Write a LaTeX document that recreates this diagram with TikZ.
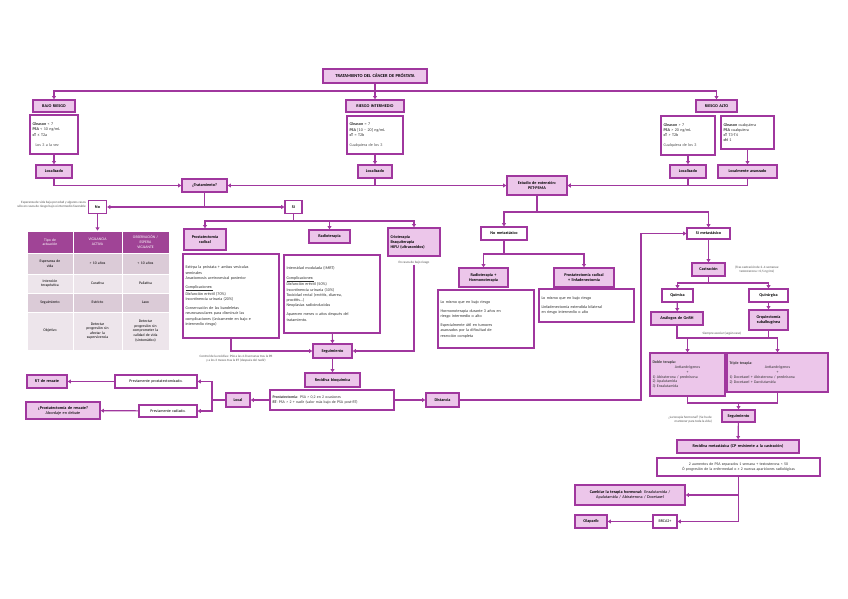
\documentclass[tikz,border=0pt]{standalone}
\usepackage{fontspec}
\setmainfont{Carlito}
\usetikzlibrary{arrows.meta,calc}
\definecolor{purp}{RGB}{160,55,158}
\definecolor{pinkf}{RGB}{236,198,234}
\definecolor{thc}{RGB}{160,68,150}
\definecolor{rowd}{RGB}{219,203,215}
\definecolor{rowl}{RGB}{237,229,235}
\definecolor{notec}{RGB}{80,80,80}
\definecolor{bodyc}{RGB}{50,50,50}
\newcommand\BX[7]{%
 \pgfmathsetmacro\bxw{#5-#3}\pgfmathsetmacro\bxh{#6-#4}%
 \pgfmathsetmacro\bxcx{(#3+#5)/2}\pgfmathsetmacro\bxcy{(#4+#6)/2}%
 \pgfmathsetmacro\bxtw{#5-#3-5}%
 \node[#1,minimum width=\bxw pt,minimum height=\bxh pt,text width=\bxtw pt] (#2) at (\bxcx,\bxcy) {#7};}
\newcommand\cl[1]{\makebox[\bxtw pt]{#1}}
\begin{document}
\begin{tikzpicture}[x=1pt,y=-1pt,
 lab/.style={font=\bfseries\fontsize{4.2}{5}\selectfont, align=center, inner xsep=2.5pt, inner ysep=0.5pt},
 pbox/.style={lab, draw=purp, fill=pinkf, line width=1.4pt},
 wbox/.style={lab, draw=purp, fill=white, line width=1.2pt},
 dbox/.style={draw=purp, fill=white, text=bodyc, line width=1.1pt, font=\fontsize{4.1}{5.2}\selectfont, align=left, inner xsep=2.5pt, inner ysep=1pt},
 nt/.style={font=\fontsize{3.3}{4}\selectfont, text=notec, inner sep=0pt},
 ln/.style={draw=purp, line width=1.2pt},
 arr/.style={ln, -{Triangle[length=3.2pt,width=3.8pt]}},
 cell/.style={draw=white, line width=0.8pt, font=\fontsize{3.8}{4.6}\selectfont, align=center, inner xsep=2.5pt, inner ysep=0pt}]
\useasboundingbox (0,0) rectangle (848,599);
\fill[white] (0,0) rectangle (848,599);

% ---- top ----
\BX{pbox,font=\bfseries\fontsize{4.5}{5.4}\selectfont}{tit}{323}{69}{427}{83}{TRATAMIENTO DEL CÁNCER DE PRÓSTATA}
\BX{pbox}{br}{33}{100}{75}{112}{BAJO RIESGO}
\BX{pbox}{ri}{346}{100}{404}{112}{RIESGO INTERMEDIO}
\BX{pbox}{ra}{696}{100}{737}{112}{RIESGO ALTO}
\BX{dbox}{bd}{30}{115}{78}{154}{\textbf{Gleason} < 7\\ \textbf{PSA} < 10 ng/mL\\ \textbf{cT} ≤ T2a\\[5pt] \hspace*{3pt}{\color{notec}Los 3 a la vez}}
\BX{dbox}{id}{347}{116}{403}{154}{\textbf{Gleason} = 7\\ \textbf{PSA} [10 – 20] ng/mL\\ \textbf{cT} = T2b\\[5pt] {\color{notec}Cualquiera de los 3}}
\BX{dbox}{ad1}{661}{116}{715}{155}{\textbf{Gleason} > 7\\ \textbf{PSA} > 20 ng/mL\\ \textbf{cT} > T2b\\[5pt] {\color{notec}Cualquiera de los 3}}
\BX{dbox}{ad2}{721}{116}{774}{149}{\textbf{Gleason} cualquiera\\ \textbf{PSA} cualquiera\\ \textbf{cT} T3-T4\\ \textbf{cN} 1}
\BX{pbox}{loc1}{36}{165}{72}{178}{Localizado}
\BX{pbox}{loc2}{358}{165}{392}{178}{Localizado}
\BX{pbox}{loc3}{670}{165}{706}{178}{Localizado}
\BX{pbox}{loc4}{718}{165}{777}{178}{Localmente avanzado}
\BX{pbox}{trat}{182}{179}{227}{192}{¿Tratamiento?}
\BX{pbox}{est}{507}{176}{567}{195}{Estudio de extensión:\\ PET-PSMA}
\BX{wbox}{no}{88.5}{200.5}{106.5}{213.5}{No}
\BX{wbox}{si}{285}{200.5}{302}{213.5}{Sí}
\node[nt,anchor=east,align=right] (nonote) at (86,204.5) {Esperanza de vida baja por edad y algunos casos\\ sólo en casos de riesgo bajo o intermedio favorable};

% ---- table ----
\BX{cell,fill=thc,text=white}{h1}{27}{231}{73}{253}{Tipo de\\ actuación}
\BX{cell,fill=thc,text=white}{h2}{73}{231}{122}{253}{VIGILANCIA\\ ACTIVA}
\BX{cell,fill=thc,text=white}{h3}{122}{231}{169}{253}{OBSERVACIÓN /\\ ESPERA\\ VIGILANTE}
\BX{cell,fill=rowd}{a1}{27}{253}{73}{274}{Esperanza de\\ vida}
\BX{cell,fill=rowd}{a2}{73}{253}{122}{274}{> 10 años}
\BX{cell,fill=rowd}{a3}{122}{253}{169}{274}{< 10 años}
\BX{cell,fill=rowl}{b1}{27}{274}{73}{293}{Intención\\ terapéutica}
\BX{cell,fill=rowl}{b2}{73}{274}{122}{293}{Curativa}
\BX{cell,fill=rowl}{b3}{122}{274}{169}{293}{Paliativa}
\BX{cell,fill=rowd}{c1}{27}{293}{73}{312}{Seguimiento}
\BX{cell,fill=rowd}{c2}{73}{293}{122}{312}{Estricto}
\BX{cell,fill=rowd}{c3}{122}{293}{169}{312}{Laxo}
\BX{cell,fill=rowl}{d1}{27}{312}{73}{350}{Objetivo}
\BX{cell,fill=rowl}{d2}{73}{312}{122}{350}{Detectar\\ progresión sin\\ afectar la\\ supervivencia}
\BX{cell,fill=rowl}{d3}{122}{312}{169}{350}{Detectar\\ progresión sin\\ comprometer la\\ calidad de vida\\ (sintomático)}

% ---- treatments ----
\BX{pbox}{pr}{184}{229}{226}{250}{Prostatectomía\\ radical}
\BX{pbox}{rt}{309}{230}{350}{243}{Radioterapia}
\BX{pbox,align=left}{crio}{388}{228}{440}{256}{Crioterapia\\ Braquiterapia\\ HIFU (ultrasonidos)}
\node[nt] (cnote) at (414,263) {En casos de bajo riesgo};
\BX{dbox}{prd}{183}{254}{279}{338}{Extirpa la próstata + ambas vesículas\\ seminales\\ Anastomosis uretrovesical posterior\\[4pt] \underline{Complicaciones:}\\ Disfunción eréctil (70\%)\\ Incontinencia urinaria (20\%)\\[4pt] Conservación de las bandeletas\\ neurovasculares para disminuir las\\ complicaciones (únicamente en bajo e\\ intermedio riesgo)}
\BX{dbox}{rtd}{284}{255}{380}{333}{Intensidad modulada (IMRT)\\[4pt] \underline{Complicaciones:}\\ Disfunción eréctil (50\%)\\ Incontinencia urinaria (10\%)\\ Toxicidad rectal (rectitis, diarrea,\\ proctitis...)\\ Neoplasias radioinducidas\\[4pt] Aparecen meses o años después del\\ tratamiento.}
\node[nt,align=center] (prnote) at (236,358.5) {Control de la recidiva: PSA a las 4-8 semanas tras la PR\\ y a los 3 meses tras la RT (después del nadir)};
\BX{pbox}{seg}{313}{344}{352}{358}{Seguimiento}
\BX{pbox}{rb}{305}{373}{360}{387}{Recidiva bioquímica}
\BX{dbox,font=\fontsize{3.9}{4.8}\selectfont}{rbox}{270}{390}{394}{410}{\textbf{Prostatectomía}: PSA > 0,2 en 2 ocasiones\\ \textbf{RT}: PSA > 2 + nadir (valor más bajo de PSA post-RT)}
\BX{pbox}{local}{226}{393}{250}{407}{Local}
\BX{pbox}{dist}{426}{393}{459}{407}{Distancia}
\BX{wbox,font=\fontsize{4}{5}\selectfont}{pp}{115}{375}{197}{388}{Previamente prostatectomizado.}
\BX{wbox,font=\fontsize{4}{5}\selectfont}{prad}{139}{405}{197}{417}{Previamente radiado.}
\BX{pbox}{rtr}{27}{375}{67}{388}{RT de rescate}
\BX{pbox}{prr}{26}{402}{100}{419}{¿Prostatectomía de rescate?\\ \mdseries Abordaje en debate}

% ---- right ----
\BX{wbox}{nm}{481}{227}{527}{240}{No metastásico}
\BX{pbox}{rth}{459}{268}{508}{287}{Radioterapia +\\ Hormonoterapia}
\BX{pbox}{prl}{554}{268}{614}{287}{Prostatectomía radical\\ + linfadenectomía}
\BX{dbox}{rthd}{438}{290}{534}{348}{Lo mismo que en bajo riesgo\\[4pt] Hormonoterapia durante 3 años en\\ riesgo intermedio o alto\\[4pt] Especialmente útil en tumores\\ avanzados por la dificultad de\\ resección completa}
\BX{dbox}{prld}{539}{289}{634}{322}{Lo mismo que en bajo riesgo\\[4pt] Linfadenectomía extendida bilateral\\ en riesgo intermedio o alto}
\BX{wbox}{sm}{687}{228}{730}{239}{Sí metastásico}
\BX{pbox}{cas}{692}{263}{725}{276}{Castración}
\node[nt,align=center] (casnote) at (757,269.5) {(Tras castración de 2–4 semanas:\\ testosterona < 0,5 ng/mL)};
\BX{wbox}{qui}{662}{289}{693}{302}{Química}
\BX{wbox}{qur}{749}{289}{788}{302}{Quirúrgica}
\BX{pbox}{ana}{651}{312}{703}{325}{Análogos de GnRH}
\BX{pbox}{orq}{749}{310}{788}{330}{Orquiectomía\\ subalbugínea}
\node[nt] (anote) at (722,334) {Siempre asociar (según caso)};
\BX{dbox,fill=pinkf,line width=1.4pt,font=\fontsize{3.9}{4.8}\selectfont}{doble}{650}{353}{725}{396}{\textbf{Doble terapia:}\\ \cl{Antiandrógenos}\\ \cl{+}\\ 1) Abiraterona / prednisona\\ 2) Apalutamida\\ 3) Enzalutamida}
\BX{dbox,fill=pinkf,line width=1.4pt,font=\fontsize{3.9}{4.8}\selectfont}{triple}{727}{353}{828}{392}{\textbf{Triple terapia:}\\ \cl{Antiandrógenos}\\ \cl{+}\\ 1) Docetaxel + Abiraterona / prednisona\\ 2) Docetaxel + Darolutamida}
\BX{pbox}{seg2}{722}{410}{755}{422}{Seguimiento}
\node[nt,anchor=east,align=right] (segnote) at (712,420) {¿La terapia hormonal? (Se ha de\\ mantener para toda la vida)};
\BX{pbox}{rm}{677}{440}{799}{453}{Recidiva metastásica (CP resistente a la castración)}
\BX{dbox,align=center,font=\fontsize{3.9}{4.8}\selectfont}{rmd}{657}{458}{820}{476}{2 aumentos de PSA separados 1 semana + testosterona < 50\\ Ó progresión de la enfermedad o ≥ 2 nuevas apariciones radiológicas}
\BX{pbox}{camb}{575}{485}{685}{505}{Cambiar la terapia hormonal: \mdseries Enzalutamida /\\ \mdseries Apalutamida / Abiraterona / Docetaxel}
\BX{wbox,font=\fontsize{4}{5}\selectfont}{brca}{653}{515}{677}{528}{BRCA2+}
\BX{pbox}{ola}{575}{515}{607}{528}{Olaparib}

% ---- connectors ----
\coordinate (t1) at (375,91);
\draw[arr] (tit) -- (ri);
\draw[arr] (t1) -| (br);
\draw[arr] (t1) -| (ra);
\draw[arr] (bd) -- (loc1);
\draw[arr] (id) -- (loc2);
\draw[arr] (ad1) -- (loc3);
\draw[arr] (ad2) -- (loc4);
\draw[arr] (loc1) |- (trat);
\draw[arr] (loc2) |- (trat);
\draw[arr] (loc2) |- (est);
\draw[arr] (loc3) |- (est);
\draw[arr] (loc4) |- (est);
\coordinate (tj) at (204.5,207);
\draw[ln] (trat) -- (tj);
\draw[arr] (tj) -- (no);
\draw[arr] (tj) -- (si);
\draw[arr] (no) -- (h2);
\coordinate (sj) at (293.5,221);
\draw[ln] (si) -- (sj);
\draw[arr] (sj) -| (pr);
\draw[arr] (sj) -| (rt);
\draw[arr] (sj) -| (crio);
\draw[arr] (prd) |- (seg);
\draw[arr] (rtd) -- (seg);
\draw[arr] (cnote) |- (seg);
\draw[arr] (seg) -- (rb);
\draw[arr] (rbox) -- (local);
\draw[arr] (rbox) -- (dist);
\coordinate (lj) at (212,400);
\draw[ln] (local) -- (lj);
\draw[arr] (lj) |- (pp);
\draw[arr] (lj) |- (prad);
\draw[arr] (pp) -- (rtr);
\draw[arr] (prad) -- (prr);
\coordinate (dj) at (641,400);
\draw[arr] (dist) -- (dj) |- (sm);
\coordinate (ej) at (537,212);
\draw[ln] (est) -- (ej);
\draw[arr] (ej) -| (nm);
\draw[arr] (ej) -| (sm);
\coordinate (nj) at (504,254);
\draw[ln] (nm) -- (nj);
\draw[arr] (nj) -| (rth);
\draw[arr] (nj) -| (prl);
\draw[arr] (sm) -- (cas);
\coordinate (cj) at (708.5,283);
\draw[ln] (cas) -- (cj);
\draw[arr] (cj) -| (qui);
\draw[arr] (cj) -| (qur);
\draw[arr] (qui) -- (ana);
\draw[arr] (qur) -- (orq);
\coordinate (aj) at (677,338);
\coordinate (aj2) at (777.5,338);
\draw[ln] (ana) -- (aj) -- (aj2);
\draw[ln] (orq) -- (orq.south |- aj);
\draw[arr] (doble.north |- aj) -- (doble);
\draw[arr] (aj2) -- (triple);
\coordinate (dj2) at (738.5,403);
\draw[ln] (doble) |- (dj2);
\draw[ln] (triple) |- (dj2);
\draw[arr] (dj2) -- (seg2);
\draw[arr] (seg2) -- (rm);
\coordinate (rj) at (738.5,495);
\draw[ln] (rmd) -- (rj);
\draw[arr] (rj) -- (camb);
\draw[arr] (rj) |- (brca);
\draw[arr] (brca) -- (ola);
\end{tikzpicture}
\end{document}
